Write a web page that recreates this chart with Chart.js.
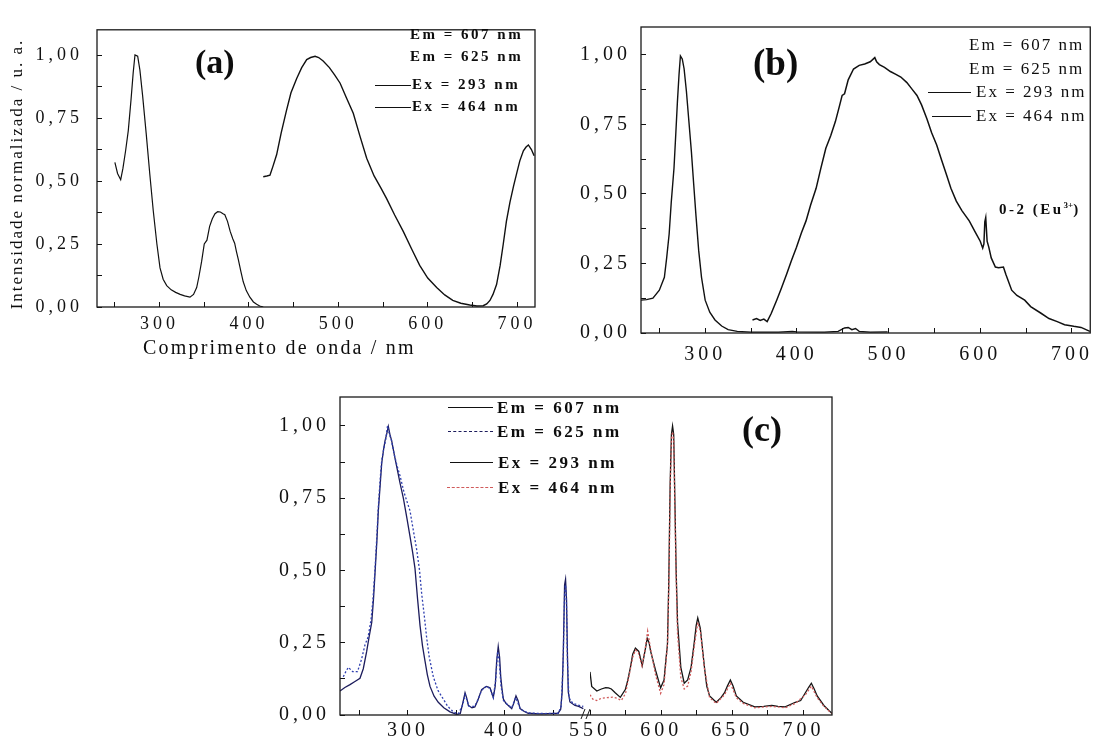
<!DOCTYPE html>
<html><head><meta charset="utf-8">
<script src="https://cdn.jsdelivr.net/npm/chart.js@4.4.1/dist/chart.umd.min.js"></script>
<style>
html,body{margin:0;padding:0;background:#fff;}
body{width:1102px;height:742px;overflow:hidden;position:relative;}
.box{position:absolute}
.t{position:absolute;white-space:nowrap;color:#0d0d0d;font-family:"Liberation Serif","Times New Roman",serif;line-height:1}
.ln{position:absolute;height:0}
.lg{font-weight:bold;font-size:15px;letter-spacing:2.5px}
.lgb{font-size:17px;letter-spacing:2px}
.lgc{font-weight:bold;font-size:17px;letter-spacing:2.5px}
.pl{font-weight:bold}
</style></head><body>
<div class="box" style="left:0;top:0"><canvas id="ca" width="550" height="370"></canvas></div>
<div class="box" style="left:555px;top:0"><canvas id="cb" width="547" height="370"></canvas></div>
<div class="box" style="left:230px;top:370px"><canvas id="cc" width="610" height="372"></canvas></div>

<!-- panel (a) texts -->
<div class="t" style="left:-133px;top:164px;width:300px;height:20px;line-height:20px;text-align:center;font-size:17px;letter-spacing:2px;transform:rotate(-90deg)">Intensidade normalizada / u. a.</div>
<div class="t" style="left:143px;top:337px;font-size:20px;letter-spacing:2.2px">Comprimento de onda / nm</div>
<div class="t pl" style="left:195px;top:45px;font-size:34px">(a)</div>
<div class="t lg" style="left:410px;top:27px">Em = 607 nm</div>
<div class="t lg" style="left:410px;top:49px">Em = 625 nm</div>
<div class="ln" style="left:375px;top:85px;width:36px;border-top:1.3px solid #111"></div>
<div class="t lg" style="left:412px;top:77px">Ex = 293 nm</div>
<div class="ln" style="left:375px;top:107px;width:36px;border-top:1.3px solid #111"></div>
<div class="t lg" style="left:412px;top:99px">Ex = 464 nm</div>

<!-- panel (b) texts -->
<div class="t pl" style="left:753px;top:44px;font-size:37px">(b)</div>
<div class="t lgb" style="left:969px;top:36px">Em = 607 nm</div>
<div class="t lgb" style="left:969px;top:60px">Em = 625 nm</div>
<div class="ln" style="left:928px;top:92px;width:43px;border-top:1.3px solid #111"></div>
<div class="t lgb" style="left:976px;top:83px">Ex = 293 nm</div>
<div class="ln" style="left:932px;top:116px;width:39px;border-top:1.3px solid #111"></div>
<div class="t lgb" style="left:976px;top:107px">Ex = 464 nm</div>
<div class="t pl" style="left:999px;top:201px;font-size:15px;letter-spacing:2.5px">0-2 (Eu<sup style="font-size:9px;letter-spacing:0">3+</sup>)</div>

<!-- panel (c) texts -->
<div class="t pl" style="left:742px;top:411px;font-size:36px">(c)</div>
<div class="ln" style="left:448px;top:407px;width:45px;border-top:1.3px solid #111"></div>
<div class="t lgc" style="left:497px;top:399px">Em = 607 nm</div>
<div class="ln" style="left:448px;top:431px;width:45px;border-top:1.3px dashed #1c1c5c"></div>
<div class="t lgc" style="left:497px;top:423px">Em = 625 nm</div>
<div class="ln" style="left:450px;top:462px;width:43px;border-top:1.3px solid #111"></div>
<div class="t lgc" style="left:498px;top:454px">Ex = 293 nm</div>
<div class="ln" style="left:447px;top:487px;width:46px;border-top:1.3px dashed #d05a5a"></div>
<div class="t lgc" style="left:498px;top:479px">Ex = 464 nm</div>

<script>
// ---------- tick values ----------
const yMajor = [0, 0.25, 0.5, 0.75, 1.0];
const yMinor = [0.125, 0.375, 0.625, 0.875];
const abMajor = [300, 400, 500, 600, 700];
const abMinor = [250, 350, 450, 550, 650];
const cLeftMajor = [300, 400];
const cLeftMinor = [250, 350, 450];
const cRightMajor = [550, 600, 650, 700];
const cRightMinor = [575, 625, 675];

// ---------- panel (a) data [wavelength nm, normalized intensity] ----------
const aExc607 = [[250,0.574],[253,0.53],[256.5,0.505],[259,0.55],[262,0.62],[265,0.70],[268,0.82],[270.5,0.93],[272.5,1.0],[275.5,0.995],[278,0.94],[281,0.84],[285,0.69],[289,0.53],[293,0.38],[297,0.25],[300.5,0.155],[304,0.11],[308,0.085],[313,0.068],[318,0.058],[323,0.050],[328,0.044],[334,0.039],[338,0.050],[341.5,0.077],[344,0.12],[347,0.18],[350,0.25],[353,0.265],[356,0.32],[359,0.35],[362,0.37],[365,0.378],[368,0.377],[371,0.37],[373,0.366],[376,0.34],[379,0.30],[382,0.27],[384,0.253],[386,0.22],[388,0.19],[391,0.14],[393.6,0.10],[397,0.065],[401,0.039],[405,0.02],[408.6,0.011],[412,0.004],[416,0.0]];
const aEmi = [[416,0.517],[420,0.52],[423.5,0.523],[427,0.56],[431,0.605],[436,0.69],[442,0.78],[447,0.85],[453.4,0.907],[459,0.95],[464.6,0.982],[469,0.99],[474,0.995],[478,0.99],[483,0.976],[490,0.95],[496,0.92],[502,0.888],[509,0.83],[516.7,0.769],[524,0.68],[531.7,0.59],[540,0.52],[548,0.47],[554,0.43],[563,0.365],[572.6,0.30],[582,0.23],[591,0.165],[600,0.115],[610,0.077],[619,0.048],[628,0.026],[637,0.015],[647,0.008],[655,0.004],[662,0.005],[666,0.012],[669.6,0.026],[673,0.05],[677,0.089],[681,0.165],[684.5,0.25],[688,0.34],[692,0.416],[696,0.48],[699.5,0.53],[703,0.58],[707,0.62],[710,0.635],[712.6,0.643],[716,0.625],[719,0.60]];

// ---------- panel (b) data ----------
const bExc = [[230,0.118],[236,0.12],[243,0.125],[250,0.154],[255.5,0.20],[258,0.27],[260.7,0.356],[263,0.47],[266,0.593],[268,0.72],[269.7,0.83],[271.5,0.93],[273,0.996],[275,0.985],[277,0.95],[279.5,0.87],[282,0.77],[285,0.65],[287.5,0.534],[290,0.42],[292.9,0.297],[296,0.20],[300,0.118],[305,0.075],[310.7,0.047],[318,0.025],[325,0.012],[335,0.006],[350,0.003],[380,0.003],[395,0.006],[400,0.004],[430,0.003],[445,0.006],[452,0.018],[456,0.02],[460,0.012],[464,0.016],[468,0.006],[480,0.003],[499,0.004]];
const bEmi = [[351.6,0.047],[356,0.052],[360,0.045],[364,0.05],[367.6,0.041],[372,0.07],[378,0.118],[383,0.16],[389,0.213],[394,0.26],[399.6,0.308],[405,0.36],[410,0.403],[415,0.46],[421,0.52],[426,0.59],[431.6,0.664],[437,0.71],[442,0.76],[446,0.81],[449.4,0.854],[452,0.86],[456,0.91],[461.8,0.949],[468,0.962],[474,0.967],[480,0.975],[485,0.99],[487,0.975],[490,0.965],[495.6,0.955],[502,0.94],[508,0.93],[513.4,0.92],[520,0.90],[526,0.875],[531,0.854],[536,0.82],[541.8,0.77],[547,0.72],[552.5,0.676],[558,0.62],[563.2,0.569],[568,0.52],[573.9,0.474],[580,0.44],[588,0.403],[595,0.36],[600,0.33],[602.7,0.305],[604,0.32],[605,0.40],[606,0.415],[607.5,0.33],[609.4,0.308],[612,0.27],[616.5,0.237],[620,0.235],[625.3,0.237],[628,0.21],[634.3,0.154],[640,0.135],[648.5,0.118],[655,0.095],[666.3,0.071],[675,0.052],[684,0.041],[692,0.03],[702,0.024],[710,0.02],[719.6,0.006]];

// ---------- panel (c) data ----------
const cEm607 = [[230,0.083],[235,0.095],[240.3,0.105],[245,0.115],[250.6,0.127],[254,0.16],[257.5,0.22],[260,0.27],[262.7,0.32],[264.5,0.40],[266,0.485],[268,0.60],[269.5,0.706],[271.5,0.80],[273,0.871],[275,0.92],[276.4,0.948],[278,0.97],[279.8,0.998],[281.5,0.97],[283.3,0.948],[286,0.90],[288.4,0.86],[292,0.80],[295.3,0.75],[299,0.68],[302.2,0.617],[305,0.56],[307.3,0.507],[310,0.40],[312.5,0.309],[315,0.24],[317.6,0.187],[320,0.14],[322.8,0.099],[327,0.065],[331.3,0.044],[337,0.025],[343.4,0.011],[350.3,0.002],[354,0.005],[356.5,0.04],[358.9,0.077],[360.5,0.06],[362.3,0.033],[366,0.025],[369,0.028],[372,0.05],[376,0.088],[379,0.095],[381,0.099],[384.6,0.094],[388,0.061],[390,0.10],[391.5,0.187],[393.1,0.237],[394.5,0.20],[395.7,0.132],[397,0.09],[398.4,0.055],[401,0.04],[403.5,0.033],[407,0.022],[409,0.04],[411.4,0.066],[413.5,0.05],[415.6,0.022],[420,0.012],[424,0.006],[435,0.004],[445,0.005],[454.7,0.006],[457.5,0.02],[459,0.08],[460.2,0.22],[461.5,0.45],[462.5,0.469],[463.5,0.40],[464.5,0.2],[465.3,0.08],[467,0.045],[472.2,0.033],[476,0.03],[480.8,0.022]];
const cEm625 = [[233.4,0.132],[236,0.15],[238.6,0.165],[243,0.15],[248,0.15],[252,0.19],[255.8,0.243],[259,0.27],[262,0.33],[264,0.40],[266,0.50],[268,0.62],[269.5,0.72],[271.5,0.82],[273,0.88],[275,0.92],[277,0.95],[279,1.0],[281,0.97],[283,0.95],[286,0.90],[289,0.86],[291.9,0.827],[296,0.77],[302.2,0.706],[305,0.65],[309,0.573],[312,0.50],[314.2,0.419],[317,0.34],[319.4,0.265],[322,0.20],[326.2,0.132],[331,0.085],[336.5,0.055],[341,0.03],[346.8,0.011],[352,0.004],[356.5,0.035],[358.9,0.07],[361,0.05],[363,0.03],[369,0.03],[373,0.06],[376,0.085],[381,0.10],[385,0.09],[388,0.06],[390.5,0.12],[392.5,0.22],[394,0.19],[396,0.10],[398.4,0.05],[403,0.035],[407,0.025],[411,0.06],[413,0.045],[416,0.02],[424,0.007],[440,0.005],[455,0.006],[458,0.03],[460,0.18],[461.5,0.42],[462.5,0.45],[463.5,0.38],[464.5,0.18],[466,0.06],[470,0.04],[475,0.035],[480.8,0.03]];
const cEx293 = [[550,0.149],[551.2,0.099],[554.8,0.083],[558,0.09],[561,0.095],[563,0.094],[565,0.09],[567.7,0.077],[571.3,0.061],[574.8,0.088],[576.5,0.12],[578.4,0.165],[580,0.21],[581.9,0.231],[584.3,0.22],[586.7,0.171],[589,0.231],[590.2,0.265],[591.5,0.25],[592.6,0.22],[596.1,0.154],[599.6,0.094],[602,0.121],[603.5,0.20],[604.4,0.243],[605.3,0.45],[606.3,0.80],[607.2,0.97],[608,1.0],[608.8,0.97],[609.6,0.75],[610.5,0.50],[611.5,0.32],[613.8,0.165],[616.2,0.11],[618.6,0.121],[621,0.165],[623.3,0.254],[624.6,0.31],[625.7,0.336],[627.5,0.30],[630.4,0.165],[632,0.10],[634,0.066],[638.7,0.044],[642,0.06],[644.5,0.077],[646.5,0.10],[648.6,0.121],[650.5,0.10],[652.8,0.066],[657.6,0.044],[665.8,0.028],[672,0.03],[677.7,0.033],[682,0.03],[687.1,0.028],[694.2,0.044],[698,0.05],[701.3,0.077],[703.5,0.095],[705.5,0.11],[707.5,0.09],[709.6,0.066],[714.3,0.033],[718,0.015],[720,0.006]];
const cEx464 = [[550,0.07],[552,0.055],[554.8,0.05],[558,0.058],[562,0.06],[566,0.062],[569,0.058],[572,0.05],[575,0.075],[578,0.15],[580,0.20],[582,0.225],[584,0.215],[586.5,0.17],[588.5,0.22],[590.5,0.29],[592.5,0.23],[596,0.14],[599.6,0.075],[602,0.105],[603.5,0.19],[604.5,0.25],[605.4,0.45],[606.4,0.80],[607.3,0.96],[608,0.98],[608.8,0.95],[609.6,0.72],[610.5,0.48],[611.5,0.28],[613.8,0.13],[616.2,0.09],[618.6,0.10],[621,0.15],[623.3,0.24],[625.7,0.32],[627.5,0.29],[630.4,0.16],[634,0.06],[638.7,0.04],[644.5,0.07],[648.6,0.11],[652.8,0.06],[657.6,0.04],[665.8,0.025],[677.7,0.03],[687.1,0.025],[694.2,0.04],[701.3,0.07],[705.5,0.10],[709.6,0.06],[714.3,0.03],[720,0.005]];

// ---------- helpers ----------
const pts = arr => arr.map(([x, y]) => ({x, y}));
const fmtY = v => v.toFixed(2).replace('.', ',');
const FONT = 'Liberation Serif';
const TICKC = '#111';

const spacing = { id: 'spacing',
  beforeDraw(chart, a, o) { chart.ctx.letterSpacing = (o.px || 0) + 'px'; },
  afterDraw(chart) { chart.ctx.letterSpacing = '0px'; } };
const frame = { id: 'frame',
  afterDraw(chart) {
    const {ctx, chartArea: c} = chart;
    ctx.save(); ctx.strokeStyle = '#1a1a1a'; ctx.lineWidth = 1.3;
    ctx.strokeRect(c.left, c.top, c.right - c.left, c.bottom - c.top);
    ctx.restore();
  } };

function yAxis(width, pad, size) {
  const vals = yMajor.concat(yMinor).sort((a, b) => a - b);
  return { type: 'linear', position: 'left', axis: 'y', min: 0, max: 1.1,
    afterBuildTicks: s => { s.ticks = vals.map(v => ({value: v})); },
    afterFit: s => { s.width = width; },
    grid: { drawOnChartArea: false, drawTicks: true, tickLength: -5, tickColor: TICKC, tickWidth: 1 },
    border: { display: false },
    ticks: { autoSkip: false, padding: pad, color: TICKC, font: { family: FONT, size },
      callback: v => yMajor.includes(v) ? fmtY(v) : '' } };
}
function xAxis(min, max, major, minor, height, pad, size, extra) {
  const vals = major.concat(minor).sort((a, b) => a - b);
  return Object.assign({ type: 'linear', position: 'bottom', axis: 'x', min, max,
    afterBuildTicks: s => { s.ticks = vals.map(v => ({value: v})); },
    afterFit: s => { s.height = height; },
    grid: { drawOnChartArea: false, drawTicks: true, tickLength: -5, tickColor: TICKC, tickWidth: 1 },
    border: { display: false },
    ticks: { autoSkip: false, maxRotation: 0, padding: pad, color: TICKC, font: { family: FONT, size },
      callback: v => major.includes(v) ? String(v) : '' } }, extra || {});
}
const baseOpts = (padding, spacingPx) => ({
  responsive: false, animation: false, events: [],
  layout: { padding },
  elements: { point: { radius: 0 }, line: { tension: 0, borderWidth: 1.2 } },
  plugins: { legend: { display: false }, tooltip: { enabled: false }, spacing: { px: spacingPx } }
});
const line = (data, color, extra) => Object.assign({ data: pts(data), borderColor: color, borderWidth: 1.2, fill: false, pointRadius: 0 }, extra || {});

// ---------- panel (a) ----------
new Chart(document.getElementById('ca'), {
  type: 'line',
  data: { datasets: [ line(aExc607, '#111', {label: 'Em = 607 nm'}), line(aEmi, '#111', {label: 'Ex = 293 nm', borderWidth: 1.4}) ] },
  options: Object.assign(baseOpts({left: 0, top: 15, right: 15, bottom: 0}, 4), {
    scales: { x: xAxis(230, 720, abMajor, abMinor, 63, 11, 18), y: yAxis(97, 19, 18) } }),
  plugins: [spacing, frame]
});

// ---------- panel (b) ----------
new Chart(document.getElementById('cb'), {
  type: 'line',
  data: { datasets: [ line(bExc, '#111', {label: 'Em = 607 nm', borderWidth: 1.4}), line(bEmi, '#111', {label: 'Ex = 464 nm', borderWidth: 1.5}) ] },
  options: Object.assign(baseOpts({left: 0, top: 24, right: 2, bottom: 0}, 4), {
    scales: { x: xAxis(230, 720, abMajor, abMinor, 37, 15, 20), y: yAxis(86, 15, 20) } }),
  plugins: [spacing, frame]
});

// ---------- panel (c) broken axis: two stacked x scales ----------
const breakMarks = { id: 'breakMarks',
  afterDraw(chart) {
    const {ctx, chartArea: c} = chart;
    const x = chart.scales.xr.left;
    const y = c.bottom;
    ctx.save(); ctx.strokeStyle = '#1a1a1a'; ctx.lineWidth = 1;
    ctx.beginPath();
    ctx.moveTo(x - 9, y + 4); ctx.lineTo(x - 5, y - 6);
    ctx.moveTo(x - 4, y + 4); ctx.lineTo(x, y - 6);
    ctx.stroke(); ctx.restore();
  } };
new Chart(document.getElementById('cc'), {
  type: 'line',
  data: { datasets: [
    line(cEm625, '#2f3fb0', {label: 'Em = 625 nm', xAxisID: 'xl', yAxisID: 'y', borderDash: [2, 2], borderWidth: 1.3}),
    line(cEm607, '#1c1c5c', {label: 'Em = 607 nm', xAxisID: 'xl', yAxisID: 'y', borderWidth: 1.3}),
    line(cEx464, '#d05a5a', {label: 'Ex = 464 nm', xAxisID: 'xr', yAxisID: 'y', borderDash: [2, 2], borderWidth: 1.3}),
    line(cEx293, '#141414', {label: 'Ex = 293 nm', xAxisID: 'xr', yAxisID: 'y', borderWidth: 1.3})
  ] },
  options: Object.assign(baseOpts({left: 0, top: 14, right: 8, bottom: 0}, 4), {
    scales: {
      xl: xAxis(230, 487.7, cLeftMajor, cLeftMinor, 25, 9, 20, {stack: 'xs', stackWeight: 250}),
      xr: xAxis(550, 720, cRightMajor, cRightMinor, 25, 9, 20, {stack: 'xs', stackWeight: 242}),
      y: yAxis(110, 15, 20)
    } }),
  plugins: [spacing, frame, breakMarks]
});
</script>
</body></html>
